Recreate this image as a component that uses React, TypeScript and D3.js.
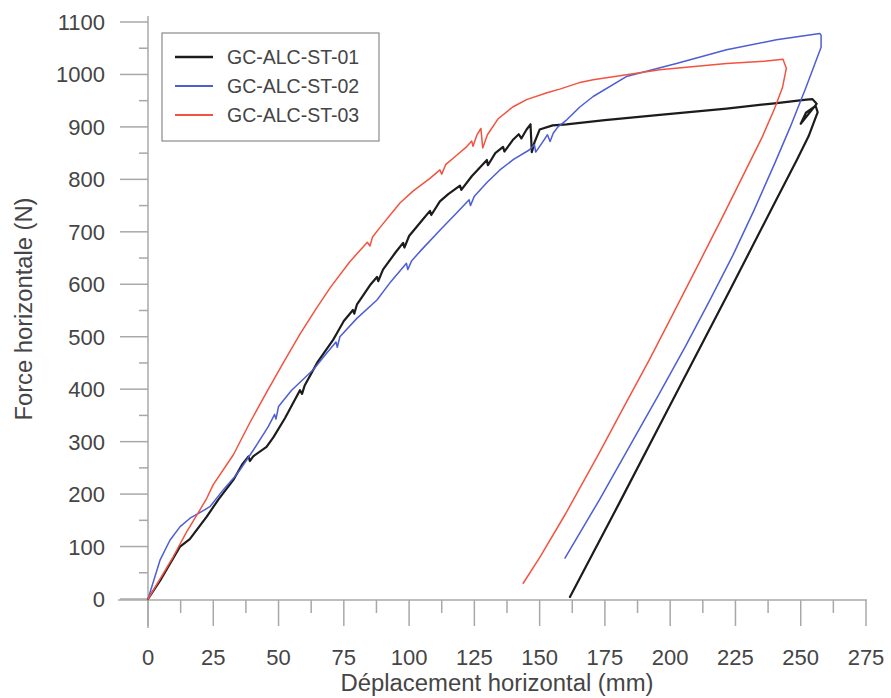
import React from "react";
import * as d3 from "d3";

// Déplacement (mm), Force (N)
const seriesNames = ["GC-ALC-ST-01", "GC-ALC-ST-02", "GC-ALC-ST-03"];

const st01: [number, number][] = [
  [0, 0], [5, 38], [12.3, 100], [16, 114], [22.5, 157], [27, 190], [32.7, 227], [36, 256], [38.5, 272], [39, 263],
  [40.3, 272], [45.4, 290], [48, 308], [52.5, 345], [58.2, 398], [59, 391], [60, 407], [65, 452], [70.9, 494],
  [72.4, 507], [75, 530], [78.5, 551], [79, 544], [80, 561], [85, 598], [87.7, 614], [88.2, 606], [90, 628],
  [95, 662], [97.7, 679], [98.2, 670], [100, 692], [105, 722], [108, 740], [108.5, 732], [111.8, 758], [115, 772],
  [119.5, 788], [120, 780], [124, 806], [129.8, 837], [130.2, 827], [133, 850], [136, 862], [136.5, 853],
  [139.7, 875], [142, 886], [143, 878], [145, 895], [146.5, 905], [147, 852], [148, 870], [150, 895], [155, 903],
  [160.3, 905], [175, 913], [196, 923], [221.6, 935], [240, 945], [252.2, 952], [254.5, 953], [256.1, 944],
  [250, 906], [252, 927], [255.7, 940], [256.5, 928], [253, 882], [248.5, 837], [240, 755], [223, 590],
  [200, 370], [180, 178], [161.6, 4],
];

const st02: [number, number][] = [
  [0, 0], [4.6, 74], [8.4, 112], [12.3, 138], [16.1, 154], [20, 165], [23.7, 176], [25, 184], [28.8, 208],
  [32.7, 230], [35.2, 246], [40.5, 285], [46, 328], [48.5, 352], [49, 343], [50, 367], [55, 398], [63.3, 437],
  [68, 466], [72, 490], [72.5, 480], [73.5, 500], [80, 535], [87.7, 570], [93, 605], [99, 640], [99.5, 628],
  [101, 645], [105, 667], [111.8, 703], [118, 735], [123, 761], [123.5, 750], [125, 768], [130, 795],
  [134.8, 818], [140, 838], [146, 856], [148, 866], [148.5, 852], [151, 870], [153, 885], [154, 872],
  [155.2, 888], [157, 900], [160.3, 913], [165.4, 938], [170.5, 958], [183.2, 996], [202.4, 1021],
  [221.6, 1047], [240.7, 1066], [257.3, 1078], [257.8, 1075], [257.8, 1052], [252, 975], [246, 900],
  [240, 830], [232, 740], [224, 655], [215, 568], [206, 483], [196, 393], [186, 305], [173, 190],
  [159.7, 78],
];

const st03: [number, number][] = [
  [0, 0], [5.9, 49], [9.7, 81], [14.8, 128], [19.9, 170], [22.5, 192], [25, 218], [32.7, 275], [39, 336],
  [45.4, 394], [51.8, 450], [58.2, 505], [64.6, 555], [70, 595], [77.3, 643], [84, 680], [85, 673], [86, 690],
  [88.8, 708], [96.5, 755], [101.6, 778], [108, 802], [111.8, 818], [112.5, 810], [114, 828], [118, 845],
  [122, 862], [124, 873], [124.5, 863], [126, 885], [127.5, 897], [128.2, 860], [130, 885], [134, 915],
  [139.7, 938], [145, 952], [152.8, 965], [157.7, 972], [165, 984], [170.5, 990], [196, 1009], [221.6, 1021],
  [236, 1025], [243.2, 1029], [244.5, 1012], [243, 975], [240, 935], [235, 878], [230, 828], [220, 728],
  [211, 640], [200, 533], [192, 456], [182, 364], [173, 280], [160, 163], [150, 79], [143.7, 30],
];

const xTicks = [0, 25, 50, 75, 100, 125, 150, 175, 200, 225, 250, 275];
const yTicks = [0, 100, 200, 300, 400, 500, 600, 700, 800, 900, 1000, 1100];
const xMinor = [12.5, 37.5, 62.5, 87.5, 112.5, 137.5, 162.5, 187.5, 212.5, 237.5, 262.5];
const yMinor = [50, 150, 250, 350, 450, 550, 650, 750, 850, 950, 1050];

const colors = ["#1c1c1c", "#4d5ed4", "#f2533f"];
const widths = [2.2, 1.5, 1.5];

export default function App() {
  const x = d3.scaleLinear().domain([0, 275]).range([148, 866]);
  const y = d3.scaleLinear().domain([0, 1100]).range([599, 22]);
  const line = d3
    .line<[number, number]>()
    .x((d) => x(d[0]))
    .y((d) => y(d[1]));
  const data = [st01, st02, st03];
  const axisColor = "#a8a8a8";
  const textColor = "#454545";
  const font = "'Liberation Sans', Arial, sans-serif";

  return (
    <svg
      width={891}
      height={698}
      style={{ position: "absolute", left: 0, top: 0, background: "#fff" }}
      fontFamily={font}
    >
      <rect x={0} y={0} width={891} height={698} fill="#fff" />
      {/* axes */}
      <line x1={x(0)} x2={x(0)} y1={16} y2={628} stroke={axisColor} strokeWidth={1.5} />
      <line x1={118} x2={x(275) + 1} y1={y(0) + 1} y2={y(0) + 1} stroke={axisColor} strokeWidth={1.5} />
      {yTicks.map((t) => (
        <g key={"y" + t}>
          <line x1={x(0) - 28} x2={x(0)} y1={y(t)} y2={y(t)} stroke={axisColor} strokeWidth={1.5} />
          <text x={105} y={y(t) + 8} textAnchor="end" fontSize={22} fill={textColor}>
            {t}
          </text>
        </g>
      ))}
      {yMinor.map((t) => (
        <line key={"ym" + t} x1={x(0) - 9} x2={x(0)} y1={y(t)} y2={y(t)} stroke={axisColor} strokeWidth={1.5} />
      ))}
      {xTicks.map((t) => (
        <g key={"x" + t}>
          <line x1={x(t)} x2={x(t)} y1={y(0) + 1} y2={y(0) + 27} stroke={axisColor} strokeWidth={1.5} />
          <text x={x(t)} y={665} textAnchor="middle" fontSize={22} fill={textColor}>
            {t}
          </text>
        </g>
      ))}
      {xMinor.map((t) => (
        <line key={"xm" + t} x1={x(t)} x2={x(t)} y1={y(0) + 1} y2={y(0) + 14} stroke={axisColor} strokeWidth={1.5} />
      ))}
      {/* titles */}
      <text x={497} y={691} textAnchor="middle" fontSize={23} fill={textColor} textLength={313} lengthAdjust="spacingAndGlyphs">
        Déplacement horizontal (mm)
      </text>
      <text
        transform="translate(32,309) rotate(-90)"
        textAnchor="middle"
        fontSize={23}
        fill={textColor}
        textLength={223}
        lengthAdjust="spacingAndGlyphs"
      >
        Force horizontale (N)
      </text>
      {/* curves */}
      {data.map((s, i) => (
        <path
          key={"s" + i}
          d={line(s) || ""}
          fill="none"
          stroke={colors[i]}
          strokeWidth={widths[i]}
          strokeLinejoin="round"
          strokeLinecap="round"
        />
      ))}
      {/* legend */}
      <rect x={162} y={33} width={217} height={108} fill="#fff" stroke="#8a8a8a" strokeWidth={1.2} />
      {seriesNames.map((n, i) => (
        <g key={n}>
          <line x1={175} x2={213} y1={57 + i * 29} y2={57 + i * 29} stroke={colors[i]} strokeWidth={widths[i] + 0.3} />
          <text x={227} y={64 + i * 29} fontSize={19.5} fill={textColor}>
            {n}
          </text>
        </g>
      ))}
    </svg>
  );
}
